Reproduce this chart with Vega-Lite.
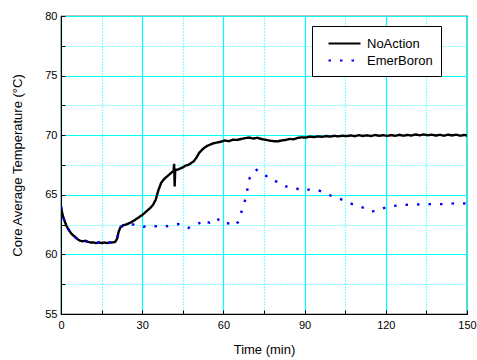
{
  "$schema": "https://vega.github.io/schema/vega-lite/v6.json",
  "width": 406,
  "height": 298,
  "autosize": "none",
  "padding": {"left": 61, "top": 16, "right": 10, "bottom": 46},
  "background": "white",
  "config": {
    "view": {"stroke": "black", "strokeWidth": 1.2},
    "font": "Liberation Sans"
  },
  "data": {"values": [
    {"t": 0, "T": 64.0, "s": "NoAction"},
    {"t": 0.5, "T": 63.4, "s": "NoAction"},
    {"t": 1, "T": 63.0, "s": "NoAction"},
    {"t": 1.5, "T": 62.7, "s": "NoAction"},
    {"t": 2, "T": 62.4, "s": "NoAction"},
    {"t": 3, "T": 62.0, "s": "NoAction"},
    {"t": 4, "T": 61.7, "s": "NoAction"},
    {"t": 5, "T": 61.5, "s": "NoAction"},
    {"t": 6, "T": 61.3, "s": "NoAction"},
    {"t": 7, "T": 61.15, "s": "NoAction"},
    {"t": 8, "T": 61.1, "s": "NoAction"},
    {"t": 9, "T": 61.15, "s": "NoAction"},
    {"t": 10, "T": 61.05, "s": "NoAction"},
    {"t": 11, "T": 61.0, "s": "NoAction"},
    {"t": 12, "T": 61.0, "s": "NoAction"},
    {"t": 13, "T": 60.95, "s": "NoAction"},
    {"t": 14, "T": 61.0, "s": "NoAction"},
    {"t": 15, "T": 60.95, "s": "NoAction"},
    {"t": 16, "T": 61.0, "s": "NoAction"},
    {"t": 17, "T": 60.95, "s": "NoAction"},
    {"t": 18, "T": 61.0, "s": "NoAction"},
    {"t": 19, "T": 61.0, "s": "NoAction"},
    {"t": 20, "T": 61.05, "s": "NoAction"},
    {"t": 20.7, "T": 61.3, "s": "NoAction"},
    {"t": 21.3, "T": 61.9, "s": "NoAction"},
    {"t": 22, "T": 62.3, "s": "NoAction"},
    {"t": 23, "T": 62.45, "s": "NoAction"},
    {"t": 24, "T": 62.5, "s": "NoAction"},
    {"t": 25, "T": 62.6, "s": "NoAction"},
    {"t": 26, "T": 62.7, "s": "NoAction"},
    {"t": 27, "T": 62.85, "s": "NoAction"},
    {"t": 28, "T": 63.0, "s": "NoAction"},
    {"t": 29, "T": 63.15, "s": "NoAction"},
    {"t": 30, "T": 63.3, "s": "NoAction"},
    {"t": 31, "T": 63.5, "s": "NoAction"},
    {"t": 32, "T": 63.7, "s": "NoAction"},
    {"t": 33, "T": 63.9, "s": "NoAction"},
    {"t": 34, "T": 64.15, "s": "NoAction"},
    {"t": 35, "T": 64.6, "s": "NoAction"},
    {"t": 36, "T": 65.4, "s": "NoAction"},
    {"t": 37, "T": 66.0, "s": "NoAction"},
    {"t": 38, "T": 66.3, "s": "NoAction"},
    {"t": 39, "T": 66.5, "s": "NoAction"},
    {"t": 40, "T": 66.7, "s": "NoAction"},
    {"t": 41, "T": 66.9, "s": "NoAction"},
    {"t": 41.6, "T": 67.0, "s": "NoAction"},
    {"t": 41.8, "T": 67.6, "s": "NoAction"},
    {"t": 42, "T": 65.7, "s": "NoAction"},
    {"t": 42.2, "T": 67.1, "s": "NoAction"},
    {"t": 43, "T": 67.1, "s": "NoAction"},
    {"t": 44, "T": 67.2, "s": "NoAction"},
    {"t": 45, "T": 67.3, "s": "NoAction"},
    {"t": 46, "T": 67.45, "s": "NoAction"},
    {"t": 47, "T": 67.5, "s": "NoAction"},
    {"t": 48, "T": 67.65, "s": "NoAction"},
    {"t": 49, "T": 67.8, "s": "NoAction"},
    {"t": 50, "T": 68.1, "s": "NoAction"},
    {"t": 51, "T": 68.5, "s": "NoAction"},
    {"t": 52, "T": 68.75, "s": "NoAction"},
    {"t": 53, "T": 68.95, "s": "NoAction"},
    {"t": 54, "T": 69.1, "s": "NoAction"},
    {"t": 55, "T": 69.2, "s": "NoAction"},
    {"t": 56, "T": 69.3, "s": "NoAction"},
    {"t": 57.5, "T": 69.38, "s": "NoAction"},
    {"t": 59, "T": 69.45, "s": "NoAction"},
    {"t": 60.5, "T": 69.55, "s": "NoAction"},
    {"t": 62, "T": 69.5, "s": "NoAction"},
    {"t": 63.5, "T": 69.62, "s": "NoAction"},
    {"t": 65, "T": 69.6, "s": "NoAction"},
    {"t": 66.5, "T": 69.68, "s": "NoAction"},
    {"t": 68, "T": 69.75, "s": "NoAction"},
    {"t": 69.5, "T": 69.8, "s": "NoAction"},
    {"t": 71, "T": 69.72, "s": "NoAction"},
    {"t": 72.5, "T": 69.78, "s": "NoAction"},
    {"t": 74, "T": 69.68, "s": "NoAction"},
    {"t": 75.5, "T": 69.62, "s": "NoAction"},
    {"t": 77, "T": 69.55, "s": "NoAction"},
    {"t": 78.5, "T": 69.5, "s": "NoAction"},
    {"t": 80, "T": 69.48, "s": "NoAction"},
    {"t": 81.5, "T": 69.56, "s": "NoAction"},
    {"t": 83, "T": 69.6, "s": "NoAction"},
    {"t": 84.5, "T": 69.68, "s": "NoAction"},
    {"t": 86, "T": 69.66, "s": "NoAction"},
    {"t": 87.5, "T": 69.78, "s": "NoAction"},
    {"t": 89, "T": 69.82, "s": "NoAction"},
    {"t": 90.5, "T": 69.8, "s": "NoAction"},
    {"t": 92, "T": 69.88, "s": "NoAction"},
    {"t": 93.5, "T": 69.84, "s": "NoAction"},
    {"t": 95, "T": 69.9, "s": "NoAction"},
    {"t": 96.5, "T": 69.86, "s": "NoAction"},
    {"t": 98, "T": 69.93, "s": "NoAction"},
    {"t": 99.5, "T": 69.88, "s": "NoAction"},
    {"t": 101, "T": 69.95, "s": "NoAction"},
    {"t": 102.5, "T": 69.9, "s": "NoAction"},
    {"t": 104, "T": 69.96, "s": "NoAction"},
    {"t": 105.5, "T": 69.92, "s": "NoAction"},
    {"t": 107, "T": 69.98, "s": "NoAction"},
    {"t": 108.5, "T": 69.92, "s": "NoAction"},
    {"t": 110, "T": 70.0, "s": "NoAction"},
    {"t": 111.5, "T": 69.94, "s": "NoAction"},
    {"t": 113, "T": 69.99, "s": "NoAction"},
    {"t": 114.5, "T": 69.93, "s": "NoAction"},
    {"t": 116, "T": 70.02, "s": "NoAction"},
    {"t": 117.5, "T": 69.95, "s": "NoAction"},
    {"t": 119, "T": 70.0, "s": "NoAction"},
    {"t": 120.5, "T": 69.94, "s": "NoAction"},
    {"t": 122, "T": 70.01, "s": "NoAction"},
    {"t": 123.5, "T": 69.95, "s": "NoAction"},
    {"t": 125, "T": 70.03, "s": "NoAction"},
    {"t": 126.5, "T": 69.96, "s": "NoAction"},
    {"t": 128, "T": 70.02, "s": "NoAction"},
    {"t": 129.5, "T": 69.97, "s": "NoAction"},
    {"t": 131, "T": 70.06, "s": "NoAction"},
    {"t": 132.5, "T": 69.99, "s": "NoAction"},
    {"t": 134, "T": 70.06, "s": "NoAction"},
    {"t": 135.5, "T": 70.0, "s": "NoAction"},
    {"t": 137, "T": 70.04, "s": "NoAction"},
    {"t": 138.5, "T": 69.97, "s": "NoAction"},
    {"t": 140, "T": 70.03, "s": "NoAction"},
    {"t": 141.5, "T": 69.96, "s": "NoAction"},
    {"t": 143, "T": 70.05, "s": "NoAction"},
    {"t": 144.5, "T": 69.98, "s": "NoAction"},
    {"t": 146, "T": 70.04, "s": "NoAction"},
    {"t": 147.5, "T": 69.96, "s": "NoAction"},
    {"t": 149, "T": 70.02, "s": "NoAction"},
    {"t": 150, "T": 69.97, "s": "NoAction"},
    {"t": 0, "T": 64.0, "s": "EmerBoron"},
    {"t": 0.5, "T": 63.4, "s": "EmerBoron"},
    {"t": 1, "T": 63.0, "s": "EmerBoron"},
    {"t": 2, "T": 62.4, "s": "EmerBoron"},
    {"t": 3, "T": 62.0, "s": "EmerBoron"},
    {"t": 4, "T": 61.7, "s": "EmerBoron"},
    {"t": 5, "T": 61.5, "s": "EmerBoron"},
    {"t": 6, "T": 61.3, "s": "EmerBoron"},
    {"t": 7, "T": 61.15, "s": "EmerBoron"},
    {"t": 8, "T": 61.1, "s": "EmerBoron"},
    {"t": 10, "T": 61.05, "s": "EmerBoron"},
    {"t": 12, "T": 61.0, "s": "EmerBoron"},
    {"t": 14, "T": 61.0, "s": "EmerBoron"},
    {"t": 16, "T": 61.0, "s": "EmerBoron"},
    {"t": 18, "T": 61.0, "s": "EmerBoron"},
    {"t": 20, "T": 61.05, "s": "EmerBoron"},
    {"t": 20.7, "T": 61.3, "s": "EmerBoron"},
    {"t": 21.3, "T": 61.9, "s": "EmerBoron"},
    {"t": 22, "T": 62.3, "s": "EmerBoron"},
    {"t": 23, "T": 62.4, "s": "EmerBoron"},
    {"t": 24.5, "T": 62.5, "s": "EmerBoron"},
    {"t": 26, "T": 62.55, "s": "EmerBoron"},
    {"t": 27.5, "T": 62.45, "s": "EmerBoron"},
    {"t": 29, "T": 62.4, "s": "EmerBoron"},
    {"t": 30.5, "T": 62.32, "s": "EmerBoron"},
    {"t": 32, "T": 62.38, "s": "EmerBoron"},
    {"t": 33.5, "T": 62.42, "s": "EmerBoron"},
    {"t": 35, "T": 62.36, "s": "EmerBoron"},
    {"t": 36.5, "T": 62.42, "s": "EmerBoron"},
    {"t": 38, "T": 62.33, "s": "EmerBoron"},
    {"t": 39.5, "T": 62.38, "s": "EmerBoron"},
    {"t": 40.5, "T": 62.45, "s": "EmerBoron"},
    {"t": 42, "T": 62.5, "s": "EmerBoron"},
    {"t": 43.3, "T": 62.55, "s": "EmerBoron"},
    {"t": 44.5, "T": 62.38, "s": "EmerBoron"},
    {"t": 45.5, "T": 62.3, "s": "EmerBoron"},
    {"t": 47, "T": 62.22, "s": "EmerBoron"},
    {"t": 48.5, "T": 62.35, "s": "EmerBoron"},
    {"t": 49.5, "T": 62.42, "s": "EmerBoron"},
    {"t": 51, "T": 62.6, "s": "EmerBoron"},
    {"t": 52, "T": 62.85, "s": "EmerBoron"},
    {"t": 53.2, "T": 62.88, "s": "EmerBoron"},
    {"t": 54, "T": 62.72, "s": "EmerBoron"},
    {"t": 55, "T": 62.65, "s": "EmerBoron"},
    {"t": 56.5, "T": 62.8, "s": "EmerBoron"},
    {"t": 57.9, "T": 63.02, "s": "EmerBoron"},
    {"t": 58.5, "T": 62.75, "s": "EmerBoron"},
    {"t": 60, "T": 62.6, "s": "EmerBoron"},
    {"t": 61.5, "T": 62.62, "s": "EmerBoron"},
    {"t": 63, "T": 62.55, "s": "EmerBoron"},
    {"t": 64.3, "T": 62.4, "s": "EmerBoron"},
    {"t": 65.5, "T": 62.75, "s": "EmerBoron"},
    {"t": 66.5, "T": 63.45, "s": "EmerBoron"},
    {"t": 67.7, "T": 64.29, "s": "EmerBoron"},
    {"t": 68.6, "T": 65.08, "s": "EmerBoron"},
    {"t": 69.2, "T": 65.97, "s": "EmerBoron"},
    {"t": 69.8, "T": 66.47, "s": "EmerBoron"},
    {"t": 70.8, "T": 66.89, "s": "EmerBoron"},
    {"t": 72.3, "T": 67.1, "s": "EmerBoron"},
    {"t": 73.5, "T": 66.95, "s": "EmerBoron"},
    {"t": 75.7, "T": 66.6, "s": "EmerBoron"},
    {"t": 77.2, "T": 66.28, "s": "EmerBoron"},
    {"t": 79.7, "T": 66.1, "s": "EmerBoron"},
    {"t": 81.5, "T": 65.86, "s": "EmerBoron"},
    {"t": 84, "T": 65.63, "s": "EmerBoron"},
    {"t": 86.4, "T": 65.58, "s": "EmerBoron"},
    {"t": 88.9, "T": 65.35, "s": "EmerBoron"},
    {"t": 91.4, "T": 65.43, "s": "EmerBoron"},
    {"t": 94.4, "T": 65.43, "s": "EmerBoron"},
    {"t": 97.2, "T": 65.2, "s": "EmerBoron"},
    {"t": 100.2, "T": 64.87, "s": "EmerBoron"},
    {"t": 103.1, "T": 64.65, "s": "EmerBoron"},
    {"t": 105.9, "T": 64.37, "s": "EmerBoron"},
    {"t": 108.9, "T": 64.1, "s": "EmerBoron"},
    {"t": 111.9, "T": 63.9, "s": "EmerBoron"},
    {"t": 114.4, "T": 63.6, "s": "EmerBoron"},
    {"t": 116.9, "T": 63.66, "s": "EmerBoron"},
    {"t": 120.5, "T": 64.0, "s": "EmerBoron"},
    {"t": 124.9, "T": 64.12, "s": "EmerBoron"},
    {"t": 129.2, "T": 64.18, "s": "EmerBoron"},
    {"t": 133.5, "T": 64.2, "s": "EmerBoron"},
    {"t": 137.8, "T": 64.22, "s": "EmerBoron"},
    {"t": 141.9, "T": 64.22, "s": "EmerBoron"},
    {"t": 145.9, "T": 64.29, "s": "EmerBoron"},
    {"t": 149.9, "T": 64.27, "s": "EmerBoron"}
  ]},
  "mark": {"type": "line", "strokeWidth": 2.4, "strokeCap": "butt", "clip": true},
  "encoding": {
    "x": {
      "field": "t", "type": "quantitative",
      "scale": {"domain": [0, 150], "nice": false},
      "axis": {
        "title": "Time (min)",
        "values": [0, 15, 30, 45, 60, 75, 90, 105, 120, 135, 150],
        "labelExpr": "datum.value % 30 === 0 ? datum.label : ''",
        "labelFontSize": 11, "labelColor": "black", "labelPadding": 9,
        "titleFontSize": 13, "titleFontWeight": "normal", "titleColor": "black", "titlePadding": 13,
        "grid": true, "gridColor": "#00FFFF", "gridWidth": 1.2,
        "gridDash": {"condition": {"test": "datum.value % 30 === 0", "value": []}, "value": [1, 2]},
        "tickSize": -4, "tickColor": "black", "domainColor": "black", "labelFlush": false
      }
    },
    "y": {
      "field": "T", "type": "quantitative",
      "scale": {"domain": [55, 80], "nice": false, "zero": false},
      "axis": {
        "title": "Core Average Temperature (°C)",
        "values": [55, 57.5, 60, 62.5, 65, 67.5, 70, 72.5, 75, 77.5, 80],
        "labelExpr": "datum.value % 5 === 0 ? datum.label : ''",
        "labelFontSize": 11, "labelColor": "black", "labelPadding": 8,
        "titleFontSize": 13, "titleFontWeight": "normal", "titleColor": "black", "titlePadding": 20,
        "grid": true, "gridColor": "#00FFFF", "gridWidth": 1.2,
        "gridDash": {"condition": {"test": "datum.value % 5 === 0", "value": []}, "value": [1, 2]},
        "tickSize": -4, "tickColor": "black", "domainColor": "black"
      }
    },
    "color": {
      "field": "s", "type": "nominal",
      "scale": {"domain": ["NoAction", "EmerBoron"], "range": ["black", "#0000FF"]},
      "legend": {
        "title": null, "orient": "none", "legendX": 251, "legendY": 10,
        "strokeColor": "black", "fillColor": "white", "padding": 8,
        "symbolType": "M-2,0L2,0", "symbolSize": 256, "symbolStrokeWidth": 2.2, "symbolOffset": 15,
        "labelFontSize": 13, "labelColor": "black", "labelOffset": 13, "rowPadding": 0
      }
    },
    "strokeDash": {
      "field": "s", "type": "nominal",
      "scale": {"domain": ["NoAction", "EmerBoron"], "range": [[1, 0], [2.5, 9]]},
      "legend": {
        "title": null, "orient": "none", "legendX": 251, "legendY": 10,
        "strokeColor": "black", "fillColor": "white", "padding": 8,
        "symbolType": "M-2,0L2,0", "symbolSize": 256, "symbolStrokeWidth": 2.2, "symbolOffset": 15,
        "labelFontSize": 13, "labelColor": "black", "labelOffset": 13, "rowPadding": 0
      }
    }
  }
}
